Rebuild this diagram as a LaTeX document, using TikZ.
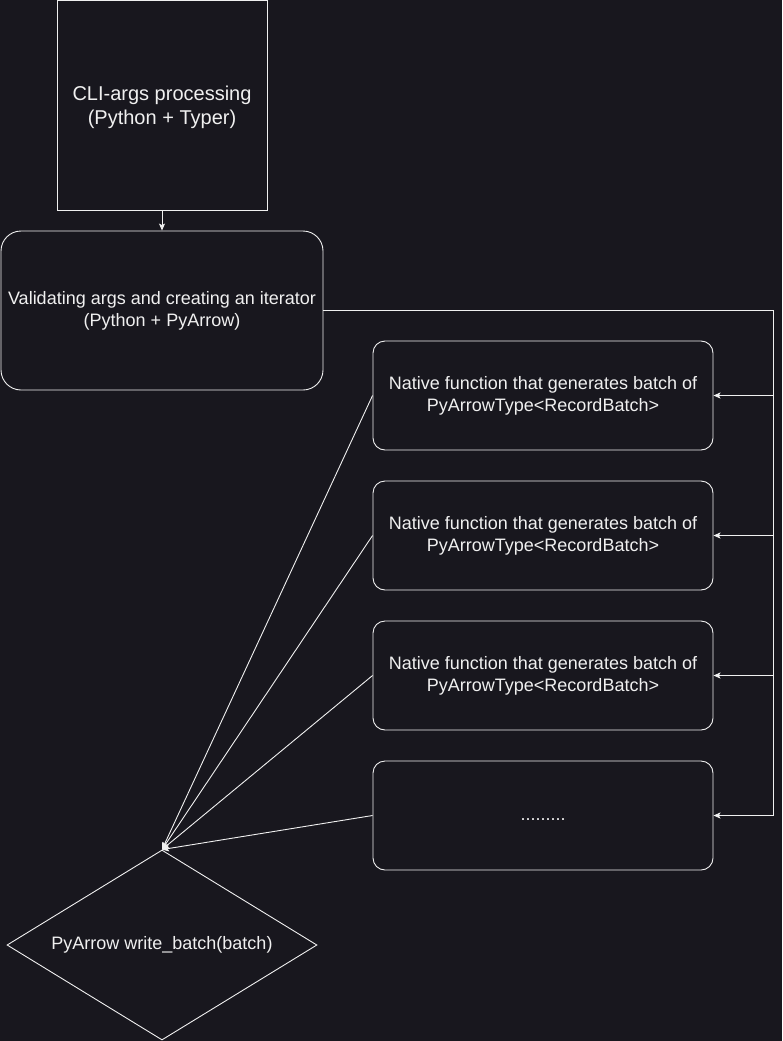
\documentclass[tikz,border=0pt]{standalone}
\usepackage{fontspec}
\setmainfont{Liberation Sans}
\usetikzlibrary{arrows.meta,shapes.geometric}
\definecolor{bg}{RGB}{24,23,30}
\definecolor{fg}{RGB}{240,240,240}
\begin{document}
\begin{tikzpicture}[x=1pt,y=-1pt,
  every node/.style={text=fg, font=\fontsize{18}{22}\selectfont, align=center, inner sep=0pt},
  ln/.style={draw=fg, line width=0.9pt},
  arr/.style={ln, -{Stealth[length=7pt,width=6pt,inset=1.5pt]}},
  native/.style={ln, rounded corners=12pt, minimum width=340pt, minimum height=109pt}]
\fill[bg] (0,0) rectangle (782,1041);
\useasboundingbox (0,0) rectangle (782,1041);
\node[ln, minimum width=210pt, minimum height=210pt, font=\fontsize{20}{24}\selectfont] (cli) at (162,105) {\raisebox{-3pt}[\height][\depth]{\begin{tabular}{@{}c@{}}CLI-args processing\\(Python + Typer)\end{tabular}}};
\node[ln, rounded corners=20pt, minimum width=322pt, minimum height=159pt] (val) at (162,310.5) {Validating args and creating an iterator\\(Python + PyArrow)};
\node[native] (n1) at (543,395.5) {Native function that generates batch of\\PyArrowType<RecordBatch>};
\node[native] (n2) at (543,535.5) {Native function that generates batch of\\PyArrowType<RecordBatch>};
\node[native] (n3) at (543,675.5) {Native function that generates batch of\\PyArrowType<RecordBatch>};
\node[native] (n4) at (543,815.5) {\raisebox{-4pt}[\height][\depth]{.........}};
\node[ln, diamond, minimum width=310pt, minimum height=190pt, aspect=1.63] (wb) at (162,945) {PyArrow write\_batch(batch)};
\coordinate (c1) at (773,310.5);
\coordinate (c4) at (773,815.5);
\draw[arr] (cli.south) -- (val.north);
\draw[ln] (val.east) -- (c1) -- (c4);
\draw[arr] (773,395.5) -- (n1.east);
\draw[arr] (773,535.5) -- (n2.east);
\draw[arr] (773,675.5) -- (n3.east);
\draw[arr] (c4) -- (n4.east);
\foreach \n in {n1,n2,n3,n4} \draw[arr] (\n.west) -- (wb.north);
\end{tikzpicture}
\end{document}
